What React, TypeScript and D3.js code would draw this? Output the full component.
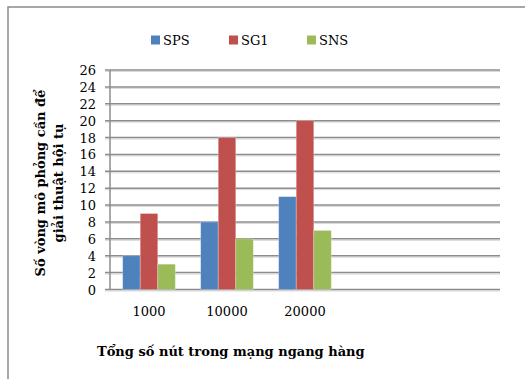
import React from "react";
import * as d3 from "d3";

const categories = ["1000", "10000", "20000", "", ""];
const seriesNames = ["SPS", "SG1", "SNS"];
const spsValues = [4, 8, 11];
const sg1Values = [9, 18, 20];
const snsValues = [3, 6, 7];
const yTicks = [0, 2, 4, 6, 8, 10, 12, 14, 16, 18, 20, 22, 24, 26];
const colors = ["#4F81BD", "#C0504D", "#9BBB59"];
const yTitleLines = ["Số vòng mô phỏng cần để", "giải thuật hội tụ"];
const xTitle = "Tổng số nút trong mạng ngang hàng";

export default function App() {
  const W = 525, H = 379;
  const left = 110, right = 500, top = 70, bottom = 289.5;
  const x = d3.scaleBand<number>().domain(categories.map((_, i) => i)).range([left, right]).padding(0);
  const y = d3.scaleLinear().domain([0, 26]).range([bottom, top]);
  const groupW = x.bandwidth() * 0.675;
  const inner = d3.scaleBand<number>().domain([0, 1, 2]).range([0, groupW]).padding(0);
  const series = [spsValues, sg1Values, snsValues];
  const font = "'DejaVu Serif', serif";
  const legendX = [151, 229, 307];

  return (
    <svg width={W} height={H} style={{ position: "absolute", left: 0, top: 0, background: "#fff" }}>
      <rect x={8} y={7} width={600} height={500} fill="#fff" stroke="#8a8a8a" strokeWidth={1.5} />
      {yTicks.map((t) => (
        <g key={t}>
          <line x1={left - 5} x2={right} y1={y(t) + 1.5} y2={y(t) + 1.5} stroke="#d9d9d9" strokeWidth={1} />
          <line x1={left - 5} x2={right} y1={y(t)} y2={y(t)} stroke="#8c8c8c" strokeWidth={1.5} />
          <text x={96} y={y(t) + 5} textAnchor="end" fontFamily={font} fontSize={13} fill="#000">
            {t}
          </text>
        </g>
      ))}
      <line x1={left} x2={left} y1={top} y2={bottom} stroke="#8c8c8c" strokeWidth={1.5} />
      {series.map((vals, s) =>
        vals.map((v, i) => (
          <rect
            key={`${s}-${i}`}
            x={(x(i) as number) + (x.bandwidth() - groupW) / 2 + (inner(s) as number)}
            y={y(v)}
            width={inner.bandwidth()}
            height={y(0) - y(v)}
            fill={colors[s]}
            stroke="rgba(255,255,255,0.35)"
            strokeWidth={0.8}
          />
        ))
      )}
      {categories.map((c, i) => (
        <text key={i} x={(x(i) as number) + x.bandwidth() / 2} y={316} textAnchor="middle" fontFamily={font} fontSize={13} fill="#000">
          {c}
        </text>
      ))}
      {seriesNames.map((n, i) => (
        <g key={n}>
          <rect x={legendX[i]} y={35.5} width={9} height={9} fill={colors[i]} />
          <text x={legendX[i] + 12} y={45} fontFamily={font} fontSize={13} fill="#000">
            {n}
          </text>
        </g>
      ))}
      <text x={97} y={356} fontFamily={font} fontSize={13} fontWeight="bold" fill="#000">
        {xTitle}
      </text>
      <g transform="translate(0,183) rotate(-90)">
        {yTitleLines.map((l, i) => (
          <text key={i} x={0} y={45 + i * 18} textAnchor="middle" fontFamily={font} fontSize={13} fontWeight="bold" fill="#000">
            {l}
          </text>
        ))}
      </g>
    </svg>
  );
}
